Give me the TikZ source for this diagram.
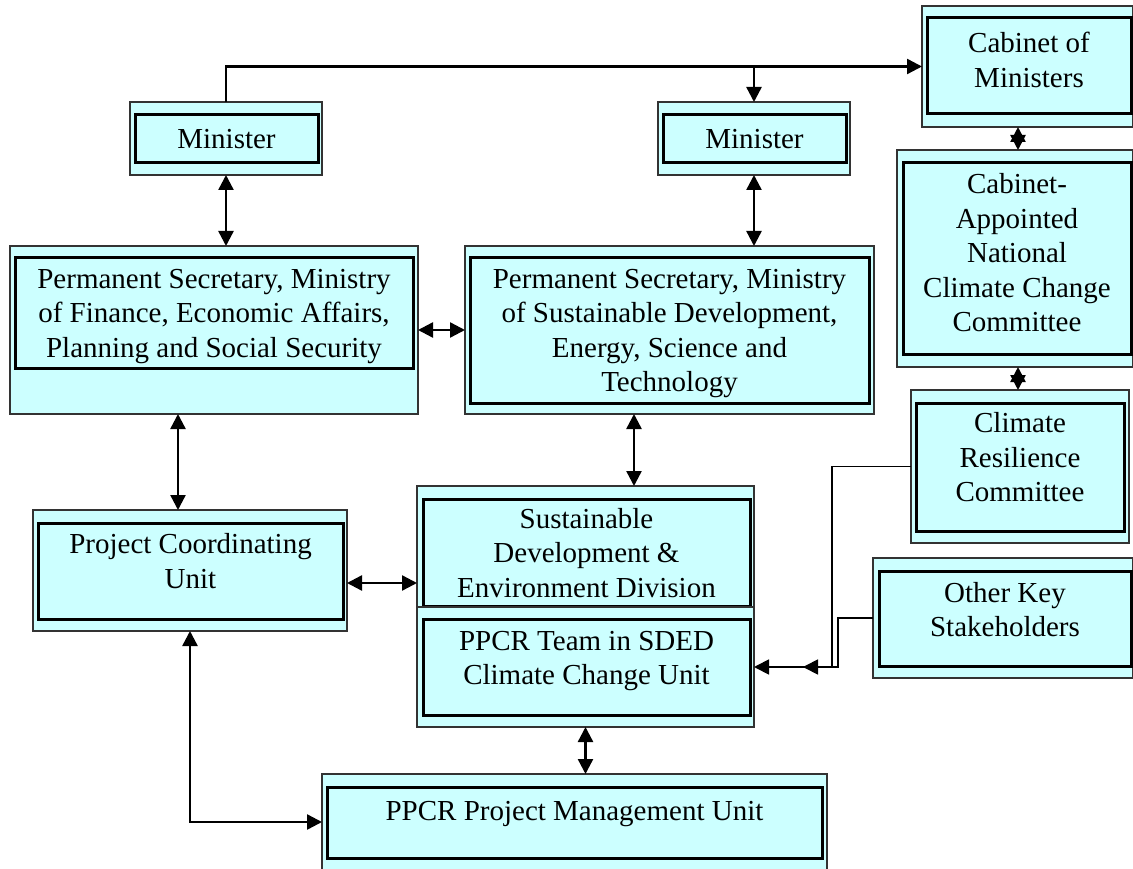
\documentclass[tikz,border=0pt]{standalone}
\usepackage{fontspec}
\setmainfont{Liberation Serif}
\usetikzlibrary{arrows.meta,calc}
\definecolor{boxcyan}{HTML}{CCFFFF}

\begin{document}
\begin{tikzpicture}[
    x=1pt, y=-1pt,
    outerbox/.style={draw=black!80, line width=1.4pt, fill=boxcyan, inner sep=0pt, outer sep=0pt},
    innerbox/.style={draw, line width=3pt, inner sep=2pt, align=center, font=\fontsize{29}{34.5}\selectfont},
    arr/.style={-{Triangle[length=15pt,width=15pt]}, line width=2.4pt},
    arrs/.style={{Triangle[length=15pt,width=15pt]}-{Triangle[length=15pt,width=15pt]}, line width=2.4pt},
  ]
  \useasboundingbox (0,0) rectangle (1133,869);

  \node[outerbox, minimum width=192pt, minimum height=73pt] (minL) at (226,138.5) {};
  \node[innerbox, minimum width=183pt, minimum height=48pt, text depth=0pt] (minL-in) at (226.5,139) {Minister};
  \node[outerbox, minimum width=192pt, minimum height=73pt] (minR) at (754,138.5) {};
  \node[innerbox, minimum width=183pt, minimum height=48pt, text depth=0pt] (minR-in) at (754.5,139) {Minister};
  \node[outerbox, minimum width=211pt, minimum height=121pt] (cab) at (1027.5,66.5) {};
  \node[innerbox, minimum width=204pt, minimum height=96pt, text depth=12pt] (cab-in) at (1029,66) {Cabinet of\\Ministers};
  \node[outerbox, minimum width=236pt, minimum height=217pt] (cac) at (1015,258.5) {};
  \node[innerbox, minimum width=228pt, minimum height=191pt, text depth=12pt] (cac-in) at (1017,258.5) {Cabinet-\\Appointed\\National\\Climate Change\\Committee};
  \node[outerbox, minimum width=218pt, minimum height=153pt] (crc) at (1020,466.5) {};
  \node[innerbox, minimum width=208pt, minimum height=128pt, text depth=20pt] (crc-in) at (1020,467) {Climate\\Resilience\\Committee};
  \node[outerbox, minimum width=260pt, minimum height=120pt] (oks) at (1003,618) {};
  \node[innerbox, minimum width=252pt, minimum height=95pt, text depth=18pt] (oks-in) at (1005,618.5) {Other Key\\Stakeholders};

  \node[outerbox, minimum width=408pt, minimum height=168pt] (psfin) at (214,330) {};
  \node[innerbox, minimum width=398pt, minimum height=110pt, text depth=-6pt] (psfin-in) at (214,313) {Permanent Secretary, Ministry\\of Finance, Economic Affairs,\\Planning and Social Security};
  \node[outerbox, minimum width=409pt, minimum height=168pt] (pssd) at (669.5,330) {};
  \node[innerbox, minimum width=399pt, minimum height=145pt, text depth=-4pt] (pssd-in) at (669.5,330.5) {Permanent Secretary, Ministry\\of Sustainable Development,\\Energy, Science and\\Technology};

  \node[outerbox, minimum width=337pt, minimum height=121pt] (sded) at (585.5,546.5) {};
  \node[innerbox, minimum width=327pt, minimum height=107pt, text depth=-6pt] (sded-in) at (586.5,552.5) {Sustainable\\Development \&\\Environment Division};
  \node[outerbox, minimum width=337pt, minimum height=120pt] (ppcr) at (585.5,667) {};
  \node[innerbox, minimum width=327pt, minimum height=96pt, text depth=18pt] (ppcr-in) at (586.5,667) {PPCR Team in SDED\\Climate Change Unit};
  \node[outerbox, minimum width=314pt, minimum height=121pt] (pcu) at (190,570.5) {};
  \node[innerbox, minimum width=305pt, minimum height=96pt, text depth=20pt] (pcu-in) at (190.5,571) {Project Coordinating\\Unit};
  \node[outerbox, minimum width=505pt, minimum height=96pt] (pmu) at (574.5,822) {};
  \node[innerbox, minimum width=495pt, minimum height=71pt, text depth=24pt] (pmu-in) at (574.5,822.5) {PPCR Project Management Unit};

  % links
  \draw[arr] (minL.north) |- (cab.west);
  \draw[arr] (minR.north |- cab.west) -- (minR.north);
  \draw[arrs] (minL.south) -- (minL.south |- psfin.north);
  \draw[arrs] (minR.south) -- (minR.south |- pssd.north);
  \draw[arrs] (psfin.east) -- (pssd.west);
  \draw[arrs] ([xshift=-12pt]pcu.north |- psfin.south) -- ([xshift=-12pt]pcu.north);
  \draw[arrs] ([xshift=48.5pt]sded.north |- pssd.south) -- ([xshift=48.5pt]sded.north);
  \draw[arrs] ([yshift=-12.5pt]pcu.east) -- ([yshift=-12.5pt]pcu.east -| sded.west);
  \draw[arrs] (ppcr.south) -- (ppcr.south |- pmu.north);
  \draw[arrs] (pcu.south) |- (pmu.west);
  \draw[arrs] ([xshift=3pt]cac.north |- cab.south) -- ([xshift=3pt]cac.north);
  \draw[arrs] ([xshift=-2pt]crc.north |- cac.south) -- ([xshift=-2pt]crc.north);
  \draw[arr, line width=1.8pt] (crc.west) -- ++(-79,0) |- (ppcr.east);
  \draw[arr, line width=1.8pt] (oks.west) -- ++(-35,0) |- ([xshift=49pt]ppcr.east);
\end{tikzpicture}
\end{document}
